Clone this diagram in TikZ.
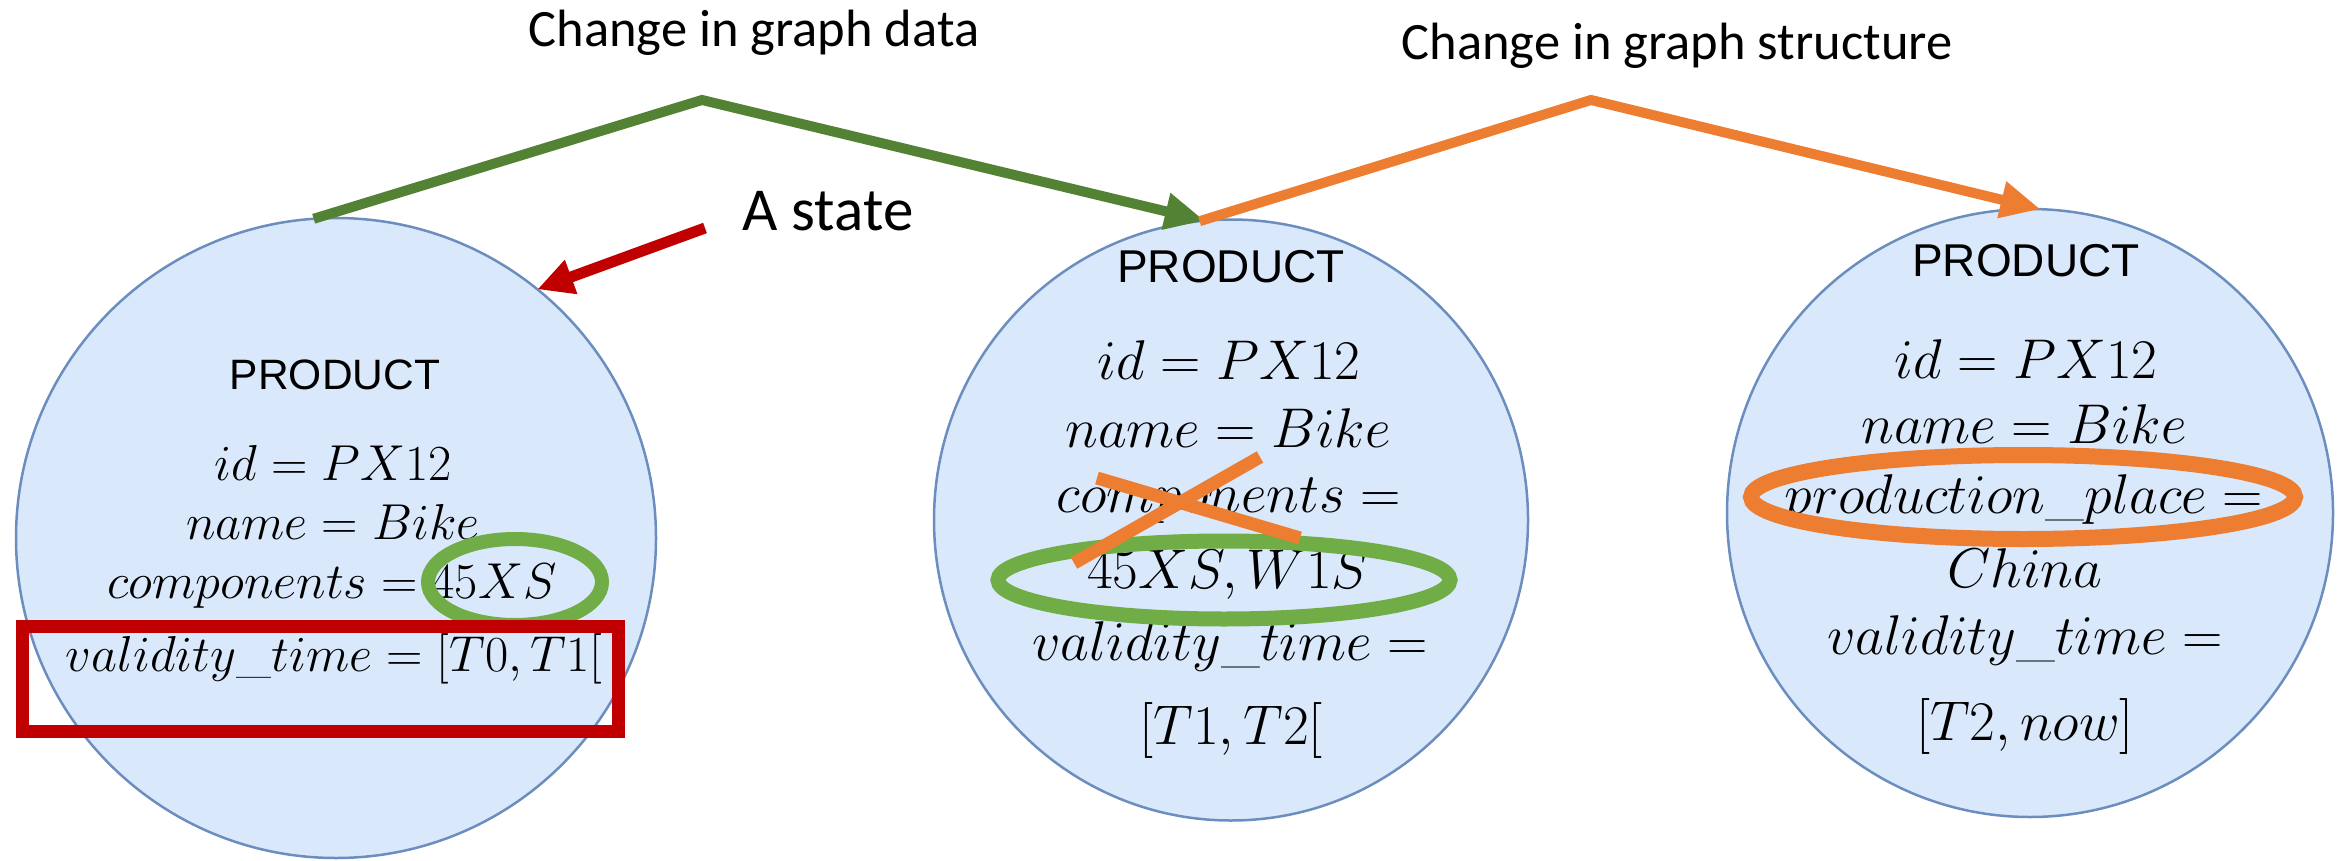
\RequirePackage{fix-cm}
\documentclass[tikz,border=0pt]{standalone}
\usepackage{fontspec}
\newfontfamily\calibrifont{Carlito}
\newfontfamily\arialfont{Liberation Sans}
\usetikzlibrary{arrows.meta,shapes.geometric}

\definecolor{statefill}{HTML}{DAE8FC}
\definecolor{stateline}{HTML}{6C8EBF}
\definecolor{datagreen}{HTML}{548235}
\definecolor{markgreen}{HTML}{70AD47}
\definecolor{structorange}{HTML}{ED7D31}
\definecolor{statered}{HTML}{C00000}

\begin{document}
\begin{tikzpicture}[x=1pt,y=-1pt,
  state/.style={ellipse, draw=stateline, fill=statefill, line width=2.5pt, inner sep=0pt, outer sep=0pt},
  heading/.style={font=\arialfont\fontsize{46}{50}\selectfont, anchor=base, inner sep=0pt},
  headingsmall/.style={font=\arialfont\fontsize{42.5}{46}\selectfont, anchor=base, inner sep=0pt},
  attr/.style={font=\fontsize{56}{60}\selectfont, anchor=base, inner sep=0pt},
  attrsmall/.style={font=\fontsize{50.5}{55}\selectfont, anchor=base, inner sep=0pt},
  caption/.style={font=\calibrifont\fontsize{52.5}{56}\selectfont, anchor=base, inner sep=0pt},
  bigcaption/.style={font=\calibrifont\fontsize{61}{64}\selectfont, anchor=base, inner sep=0pt},
  flow/.style={line width=10pt, line join=miter, -{Triangle[length=40pt,width=35pt]}},
  mark/.style={draw, line width=#1, inner sep=0pt, outer sep=0pt},
]
\useasboundingbox (0,0) rectangle (2341,861);

% the three states
\node[state, minimum width=640pt, minimum height=640pt] (s1) at (336,538) {};
\node[state, minimum width=594pt, minimum height=601pt] (s2) at (1231,520) {};
\node[state, minimum width=606pt, minimum height=608pt] (s3) at (2030,513) {};

% state 1
\node[headingsmall] (s1title) at (335,389) {PRODUCT};
\node[attrsmall] (s1id) at (333,480) {$id = PX12$};
\node[attrsmall] (s1name) at (333,539) {$name = Bike$};
\node[attrsmall] (s1comp) at (332,598) {$components = 45XS$};
\node[attrsmall] (s1valid) at (334,671) {$validity\_time = [T0,T1[$};

% state 2
\node[heading] (s2title) at (1231,282) {PRODUCT};
\node[attr] (s2id) at (1229,379) {$id = PX12$};
\node[attr] (s2name) at (1228,447) {$name = Bike$};
\node[attr] (s2comp) at (1229,512) {$components =$};
\node[attr] (s2compv) at (1228,588) {$45XS, W1S$};
\node[attr] (s2valid) at (1230,660) {$validity\_time =$};
\node[attr] (s2validv) at (1231,744) {$[T1,T2[$};

% state 3
\node[heading] (s3title) at (2026,276) {PRODUCT};
\node[attr] (s3id) at (2026,378) {$id = PX12$};
\node[attr] (s3name) at (2024,443) {$name = Bike$};
\node[attr] (s3place) at (2024,513) {$production\_place =$};
\node[attr] (s3placev) at (2025,587) {$China$};
\node[attr] (s3valid) at (2025,654) {$validity\_time =$};
\node[attr] (s3validv) at (2025,740) {$[T2,now]$};

% highlights
\node[mark=14pt, draw=markgreen, ellipse, minimum width=174pt, minimum height=86pt] (hl1) at (515,582) {};
\node[mark=13pt, draw=statered, rectangle, minimum width=596pt, minimum height=105pt] (box1) at (320.5,679) {};
\node[mark=15pt, draw=markgreen, ellipse, minimum width=452pt, minimum height=78pt] (hl2) at (1224,580) {};
\node[mark=16pt, draw=structorange, ellipse, minimum width=544pt, minimum height=84pt] (hl3) at (2023,497) {};

% removed attribute
\coordinate (xa1) at (1097,478);
\coordinate (xa2) at (1300,538);
\coordinate (xb1) at (1074,563);
\coordinate (xb2) at (1260,457);
\draw[structorange, line width=13pt] (xa1) -- (xa2);
\draw[structorange, line width=13pt] (xb1) -- (xb2);

% transitions
\coordinate (gpeak) at (702,100);
\coordinate (opeak) at (1591,100);
\draw[flow, datagreen] (s1.94) -- (gpeak) -- (s2.95.5);
\draw[flow, structorange] (s2.96) -- (opeak) -- (s3.88);

\node[caption] (datalabel) at (754,47) {Change in graph data};
\node[caption] (structlabel) at (1677,60) {Change in graph structure};

% pointer to a state
\node[bigcaption] (statelabel) at (828,230) {A state};
\coordinate (rtail) at (705,228);
\draw[statered, line width=11pt, -{Triangle[length=36pt,width=34pt]}] (rtail) -- (s1.51.8);
\end{tikzpicture}
\end{document}
